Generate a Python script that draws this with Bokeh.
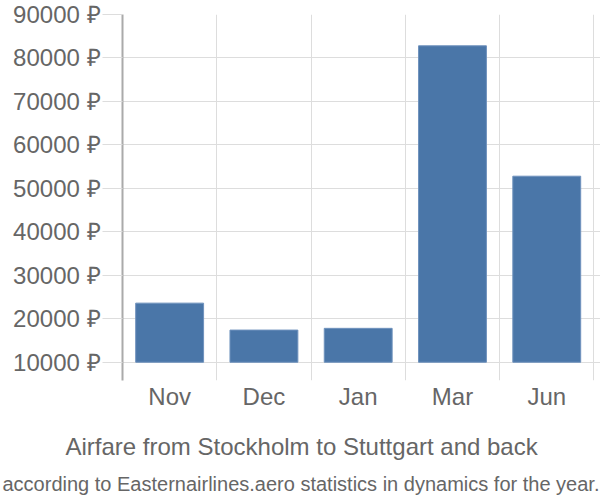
from bokeh.plotting import figure
from bokeh.models import FixedTicker, Range1d, Title, ColumnDataSource
from bokeh.embed import file_html
from bokeh.resources import INLINE

months = ["Nov", "Dec", "Jan", "Mar", "Jun"]
prices = [23600, 17400, 17800, 82800, 52800]
y_ticks = [10000, 20000, 30000, 40000, 50000, 60000, 70000, 80000, 90000]
y_labels = [f"{v} ₽" for v in y_ticks]
base = 10000
title = "Airfare from Stockholm to Stuttgart and back"
subtitle = "according to Easternairlines.aero statistics in dynamics for the year."

xs = [i + 0.5 for i in range(len(months))]
src = ColumnDataSource(dict(x=xs, top=prices, bottom=[base] * len(prices)))

p = figure(width=600, height=500, output_backend="svg", toolbar_location=None,
           x_range=Range1d(0, 5.07), y_range=Range1d(5800, 90000),
           min_border_left=122, min_border_right=0, min_border_top=14,
           min_border_bottom=120)
p.outline_line_color = None
p.background_fill_color = "white"

p.vbar(x="x", top="top", bottom="bottom", width=0.72, source=src,
       fill_color="#4a76a8", line_color="#6f92bd", line_width=1)

font = "Liberation Sans"
grey = "#666666"

# y axis
ya = p.yaxis[0]
ya.ticker = FixedTicker(ticks=y_ticks)
ya.major_label_overrides = {v: l for v, l in zip(y_ticks, y_labels)}
ya.axis_line_color = "#aaaaaa"
ya.axis_line_width = 2
ya.major_tick_out = 20
ya.major_tick_in = 0
ya.major_tick_line_color = "#dddddd"
ya.minor_tick_line_color = None
ya.major_label_standoff = 2
ya.major_label_text_font = font
ya.major_label_text_font_size = "24px"
ya.major_label_text_color = grey

# x axis
xa = p.xaxis[0]
xa.ticker = FixedTicker(ticks=xs)
xa.major_label_overrides = {x: m for x, m in zip(xs, months)}
xa.axis_line_color = None
xa.major_tick_line_color = None
xa.minor_tick_line_color = None
xa.major_label_standoff = -4
xa.major_label_text_font = font
xa.major_label_text_font_size = "24px"
xa.major_label_text_color = grey

p.xgrid.ticker = FixedTicker(ticks=[1, 2, 3, 4, 5])
p.xgrid.grid_line_color = "#dddddd"
p.ygrid.ticker = FixedTicker(ticks=y_ticks)
p.ygrid.grid_line_color = "#dddddd"

t1 = Title(text=title, align="left", offset=-57,
           text_font=font, text_font_size="24px", text_font_style="normal",
           text_color=grey, standoff=37)
t2 = Title(text=subtitle, align="left", offset=-120,
           text_font=font, text_font_size="20px", text_font_style="normal",
           text_color=grey, standoff=-32)
p.add_layout(t1, "below")
p.add_layout(t2, "below")

open("out.html", "w").write(file_html(p, INLINE))
